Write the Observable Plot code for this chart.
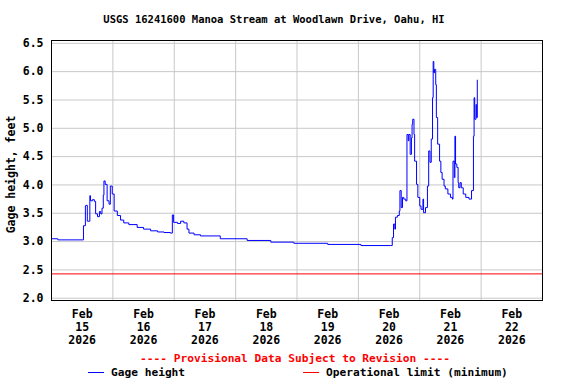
<!DOCTYPE html>
<html><head><meta charset="utf-8">
<script src="https://cdn.jsdelivr.net/npm/d3@7"></script>
<script src="https://cdn.jsdelivr.net/npm/@observablehq/plot@0.6"></script>
<style>
body{margin:0;background:#fff;}
#c{position:relative;width:576px;height:384px;font-family:"DejaVu Sans Mono",monospace;font-weight:bold;font-size:11.2px;background:#fff;}
#c svg{position:absolute;left:0;top:0;}
.abs{position:absolute;line-height:12px;white-space:pre;}
.sw{position:absolute;height:0;border-top:1px solid;}
</style></head><body><div id="c"></div>
<script>
const titleText = "USGS 16241600 Manoa Stream at Woodlawn Drive, Oahu, HI";
const yLabel = "Gage height, feet";
const provisional = "---- Provisional Data Subject to Revision ----";
const seriesNames = ["Gage height", "Operational limit (minimum)"];
const seriesColors = ["#0000ff", "#ff0000"];
const operationalLimit = 2.43;
const yTicks = [2.0, 2.5, 3.0, 3.5, 4.0, 4.5, 5.0, 5.5, 6.0, 6.5];
const gridDays = ["2026-02-16","2026-02-17","2026-02-18","2026-02-19","2026-02-20","2026-02-21","2026-02-22"];
const tickDays = ["2026-02-15","2026-02-16","2026-02-17","2026-02-18","2026-02-19","2026-02-20","2026-02-21","2026-02-22"];
const times = [
"15T00:00","15T02:15","15T02:30","15T12:15","15T12:30","15T13:15","15T13:30","15T14:00","15T15:00","15T15:15",
"15T16:00","15T16:45","15T17:15","15T18:00","15T18:45","15T19:15","15T19:45","15T20:15","15T20:30","15T21:00",
"15T21:45","15T22:30","15T23:00","15T23:45","16T00:30","16T01:45","16T03:00","16T04:15","16T06:15","16T09:30",
"16T12:00","16T14:45","16T17:30","16T20:00","16T22:30","16T23:15","16T23:45","17T01:15","17T02:30","17T03:45",
"17T05:00","17T05:45","17T07:45","17T10:15","17T18:00","18T04:30","18T13:45","18T22:45","19T12:00","20T01:00",
"20T12:30","20T13:15","20T13:45","20T14:15","20T14:30","20T15:15","20T16:00","20T16:15","20T16:45","20T17:15",
"20T17:45","20T18:30","20T19:00","20T19:30","20T19:45","20T20:15","20T20:45","20T21:00","20T21:15","20T21:45",
"20T22:00","20T22:45","20T23:15","21T00:00","21T00:30","21T01:15","21T01:30","21T02:15","21T03:00","21T03:30",
"21T04:00","21T04:30","21T05:00","21T05:15","21T05:30","21T05:45","21T06:15","21T06:30","21T07:00","21T07:45",
"21T08:15","21T08:45","21T09:30","21T10:00","21T11:00","21T12:00","21T12:45","21T13:00","21T13:30","21T13:45",
"21T14:00","21T14:30","21T15:00","21T15:15","21T15:45","21T16:15","21T17:00","21T18:00","21T19:15","21T20:00",
"21T20:15","21T21:00","21T21:15","21T21:30","21T22:00","21T22:15","21T22:30"
];
const gageHeight = [
3.05,3.05,3.03,3.03,3.28,3.63,3.64,3.36,3.81,3.72,
3.74,3.71,3.49,3.44,3.53,3.49,3.59,3.82,4.07,4.01,
3.72,3.66,3.98,3.84,3.54,3.46,3.38,3.33,3.30,3.25,
3.22,3.19,3.17,3.16,3.15,3.47,3.34,3.32,3.36,3.33,
3.22,3.15,3.12,3.10,3.05,3.02,2.99,2.97,2.95,2.93,
2.93,3.07,3.31,3.22,3.43,3.46,3.54,3.90,3.60,3.78,
3.75,3.72,4.89,4.78,4.89,4.54,4.83,5.07,5.16,4.89,
4.42,4.01,3.78,3.63,3.57,3.75,3.51,3.60,3.98,4.60,
4.40,4.81,5.54,6.18,5.98,6.04,5.77,5.19,4.72,4.42,
4.22,4.10,3.98,3.93,3.84,3.78,3.75,4.42,4.13,4.86,
4.37,4.31,4.04,3.95,4.04,3.95,3.84,3.78,3.75,3.75,
3.90,4.86,5.54,5.16,5.42,5.19,5.85
];

const utc = s => new Date(s + "Z");
const data = times.map((t, i) => ({date: utc("2026-02-" + t), value: gageHeight[i]}));
const fmt = d3.utcFormat("%b\n%-d\n%Y");

const chart = Plot.plot({
  width: 576, height: 350,
  marginTop: 40, marginBottom: 50, marginLeft: 51, marginRight: 34,
  style: {fontFamily: '"DejaVu Sans Mono", monospace', fontSize: "11.5px", fontWeight: "bold", background: "#fff", color: "#000"},
  x: {type: "utc", domain: [utc("2026-02-15T00:00"), utc("2026-02-23T00:00")], label: null},
  y: {domain: [1.96, 6.55], label: null},
  marks: [
    Plot.gridX(gridDays.map(d => utc(d + "T00:00")), {stroke: "#c8c8c8", strokeOpacity: 1}),
    Plot.gridY(yTicks, {stroke: "#c8c8c8", strokeOpacity: 1}),
    Plot.ruleY([operationalLimit], {stroke: seriesColors[1], strokeWidth: 1}),
    Plot.line(data, {x: "date", y: "value", stroke: seriesColors[0], strokeWidth: 1, curve: "step-after"}),
    Plot.frame({stroke: "#000"}),
    Plot.axisY(yTicks, {tickSize: 0, tickPadding: 8, tickFormat: d => d.toFixed(1), label: null}),
    Plot.axisX(tickDays.map(d => utc(d + "T12:00")), {tickSize: 0, tickPadding: 8, tickFormat: fmt, lineHeight: 1.15, label: null}),
    Plot.text([yLabel], {frameAnchor: "left", text: d => d, rotate: -90, fontSize: 11.5, textAnchor: "middle", lineAnchor: "middle"}),
    Plot.text([titleText], {frameAnchor: "top", lineAnchor: "middle", dy: -21, dx: -23, fontSize: 10.5, fill: "#000"})
  ]
});
const c = document.getElementById("c");
c.appendChild(chart);

// place rotated y label (center x=11, y=174)
const yl = Array.from(chart.querySelectorAll("text")).find(t => t.textContent === yLabel);
if (yl) {
  yl.setAttribute("transform", "translate(11,174) rotate(-90)");
  yl.removeAttribute("x"); yl.removeAttribute("y");
  yl.setAttribute("text-anchor", "middle");
  yl.setAttribute("dy", "0.32em");
}

function addText(txt, left, top, color, center) {
  const e = document.createElement("div");
  e.className = "abs"; e.textContent = txt; e.style.color = color;
  e.style.top = top + "px";
  if (center) { e.style.left = (left - 300) + "px"; e.style.width = "600px"; e.style.textAlign = "center"; }
  else e.style.left = left + "px";
  c.appendChild(e);
}
function addSwatch(left, width, top, color) {
  const e = document.createElement("div");
  e.className = "sw"; e.style.left = left + "px"; e.style.width = width + "px"; e.style.top = top + "px"; e.style.borderColor = color;
  c.appendChild(e);
}
addText(provisional, 295, 353, "#ff0000", true);
addSwatch(88, 16, 372, seriesColors[0]);
addText(seriesNames[0], 111, 367, "#000", false);
addSwatch(303, 16, 372, seriesColors[1]);
addText(seriesNames[1], 326, 367, "#000", false);
</script>
</body></html>
